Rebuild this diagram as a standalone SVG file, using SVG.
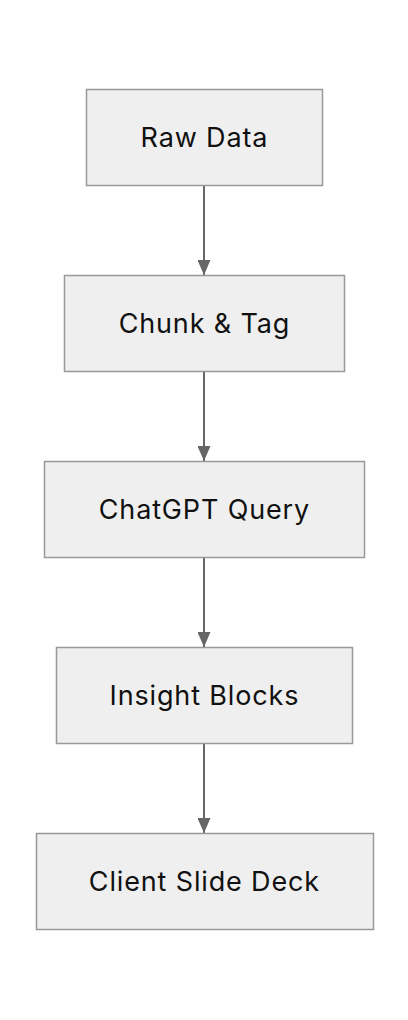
<svg xmlns="http://www.w3.org/2000/svg" width="408" height="1020" viewBox="0 0 408 1020">
<style>
.n rect{fill:#efefef;stroke:#999;stroke-width:1.5}
.n text{font-family:Inter,"Noto Sans",sans-serif;font-size:27px;letter-spacing:0.85px;fill:#111;text-anchor:middle}
.e line{stroke:#666;stroke-width:2}
</style>
<defs>
<marker id="ah" viewBox="0 0 15 13" refX="15" refY="6.5" markerWidth="15" markerHeight="13" markerUnits="userSpaceOnUse" orient="auto">
<path d="M0,0 L15,6.5 L0,13 z" fill="#666"/>
</marker>
</defs>
<rect width="408" height="1020" fill="#fff"/>
<g class="e">
<line x1="204" y1="186" x2="204" y2="275" marker-end="url(#ah)"/>
<line x1="204" y1="372" x2="204" y2="461" marker-end="url(#ah)"/>
<line x1="204" y1="557" x2="204" y2="647" marker-end="url(#ah)"/>
<line x1="204" y1="744" x2="204" y2="833" marker-end="url(#ah)"/>
</g>
<g id="raw" class="n"><rect x="86.5" y="89.5" width="236" height="96"/><text x="204.4" y="147.3">Raw Data</text></g>
<g id="chunk" class="n"><rect x="64.5" y="275.5" width="280" height="96"/><text x="204.4" y="333.3">Chunk &amp; Tag</text></g>
<g id="query" class="n"><rect x="44.5" y="461.5" width="320" height="96"/><text x="204.4" y="519.3">ChatGPT Query</text></g>
<g id="insight" class="n"><rect x="56.5" y="647.5" width="296" height="96"/><text x="204.4" y="705.3">Insight Blocks</text></g>
<g id="deck" class="n"><rect x="36.5" y="833.5" width="337" height="96"/><text x="204.4" y="891.3">Client Slide Deck</text></g>
</svg>
